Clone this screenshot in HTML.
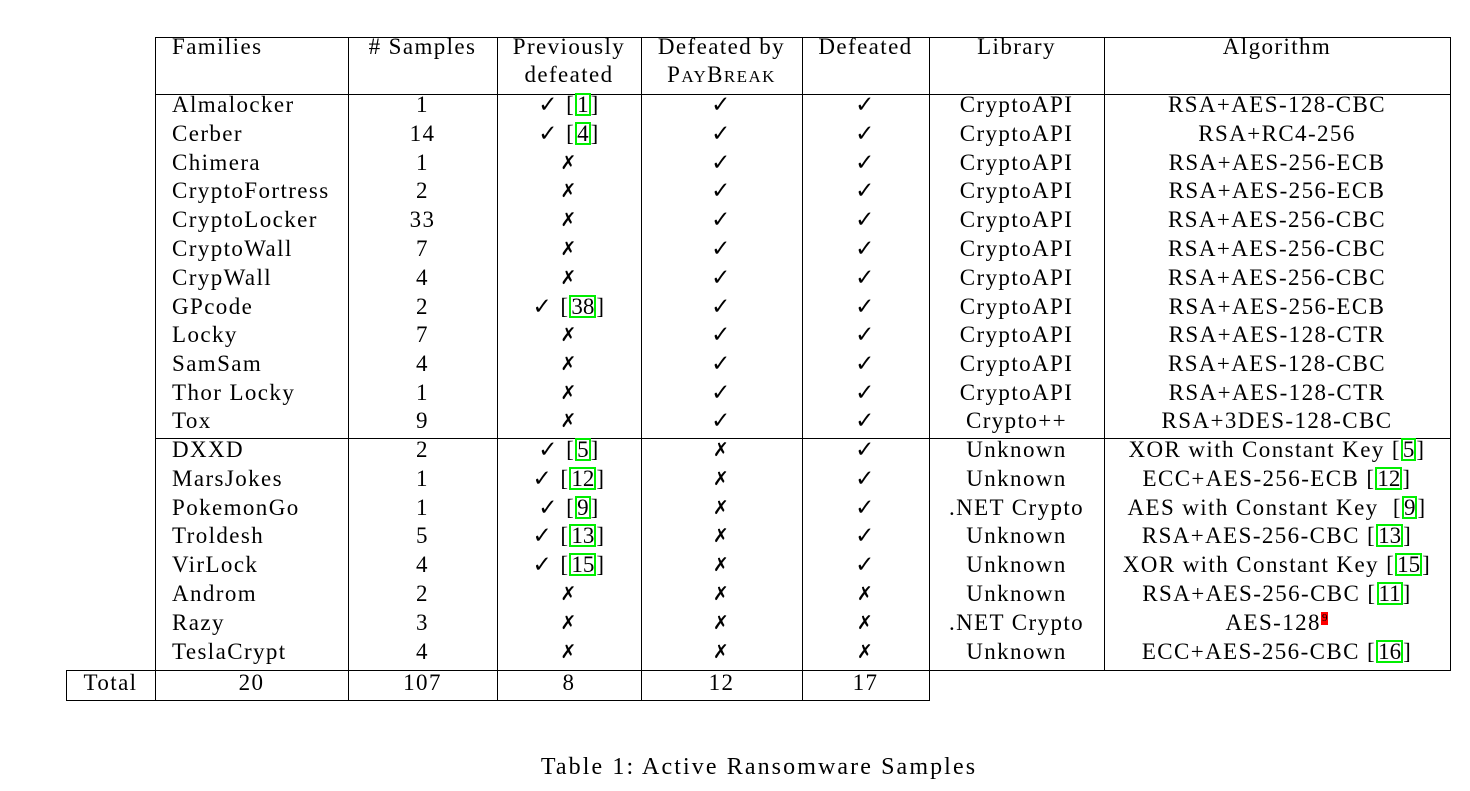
<!DOCTYPE html>
<html><head><meta charset="utf-8"><style>
body{margin:0;background:#fff;width:1470px;height:791px;position:relative;overflow:hidden;font-family:"Liberation Serif",serif;font-size:23px;color:#000;letter-spacing:1.4px}
.h,.v{position:absolute;background:#000}
.h{height:1.3px}.v{width:1.3px}
.row{position:absolute;left:0;width:1470px;height:26px;line-height:26px}
.row span{position:absolute;top:0;text-align:center;white-space:nowrap}
.f{left:172px;text-align:left!important}
.s{left:348px;width:149px}.p{left:497px;width:144px}.b{left:641px;width:161px}.d{left:802px;width:127px}.l{left:929px;width:175px}.a{left:1104px;width:346px}
.r{border:2px solid #00ee00;padding:0;line-height:19px;display:inline-block;letter-spacing:0}
.x{font-family:"DejaVu Sans",sans-serif;font-size:19px;font-weight:bold}
.sc{font-size:17px}
</style></head><body>
<div class="h" style="left:155px;top:37px;width:1296px"></div>
<div class="h" style="left:155px;top:94px;width:1296px"></div>
<div class="h" style="left:155px;top:438px;width:1296px"></div>
<div class="h" style="left:66px;top:670px;width:1385px"></div>
<div class="h" style="left:66px;top:700px;width:864px"></div>
<div class="v" style="left:66px;top:670px;height:31px"></div>
<div class="v" style="left:155px;top:37px;height:664px"></div>
<div class="v" style="left:348px;top:37px;height:664px"></div>
<div class="v" style="left:497px;top:37px;height:664px"></div>
<div class="v" style="left:641px;top:37px;height:664px"></div>
<div class="v" style="left:802px;top:37px;height:664px"></div>
<div class="v" style="left:929px;top:37px;height:664px"></div>
<div class="v" style="left:1104px;top:37px;height:634px"></div>
<div class="v" style="left:1450px;top:37px;height:634px"></div>

<div class="row" style="top:34px"><span class="f">Families</span><span class="s"># Samples</span><span class="p">Previously</span><span class="b">Defeated by</span><span class="d">Defeated</span><span class="l">Library</span><span class="a">Algorithm</span></div>
<div class="row" style="top:62px"><span class="p">defeated</span><span class="b">P<span class="sc" style="position:static">AY</span>B<span class="sc" style="position:static">REAK</span></span></div>

<div class="row" style="top:92px"><span class="f">Almalocker</span><span class="s">1</span><span class="p">✓ [<span class="r" style="position:static">1</span>]</span><span class="b">✓</span><span class="d">✓</span><span class="l">CryptoAPI</span><span class="a">RSA+AES-128-CBC</span></div>
<div class="row" style="top:121px"><span class="f">Cerber</span><span class="s">14</span><span class="p">✓ [<span class="r" style="position:static">4</span>]</span><span class="b">✓</span><span class="d">✓</span><span class="l">CryptoAPI</span><span class="a">RSA+RC4-256</span></div>
<div class="row" style="top:150px"><span class="f">Chimera</span><span class="s">1</span><span class="p x">✗</span><span class="b">✓</span><span class="d">✓</span><span class="l">CryptoAPI</span><span class="a">RSA+AES-256-ECB</span></div>
<div class="row" style="top:178px"><span class="f">CryptoFortress</span><span class="s">2</span><span class="p x">✗</span><span class="b">✓</span><span class="d">✓</span><span class="l">CryptoAPI</span><span class="a">RSA+AES-256-ECB</span></div>
<div class="row" style="top:207px"><span class="f">CryptoLocker</span><span class="s">33</span><span class="p x">✗</span><span class="b">✓</span><span class="d">✓</span><span class="l">CryptoAPI</span><span class="a">RSA+AES-256-CBC</span></div>
<div class="row" style="top:236px"><span class="f">CryptoWall</span><span class="s">7</span><span class="p x">✗</span><span class="b">✓</span><span class="d">✓</span><span class="l">CryptoAPI</span><span class="a">RSA+AES-256-CBC</span></div>
<div class="row" style="top:265px"><span class="f">CrypWall</span><span class="s">4</span><span class="p x">✗</span><span class="b">✓</span><span class="d">✓</span><span class="l">CryptoAPI</span><span class="a">RSA+AES-256-CBC</span></div>
<div class="row" style="top:294px"><span class="f">GPcode</span><span class="s">2</span><span class="p">✓ [<span class="r" style="position:static">38</span>]</span><span class="b">✓</span><span class="d">✓</span><span class="l">CryptoAPI</span><span class="a">RSA+AES-256-ECB</span></div>
<div class="row" style="top:322px"><span class="f">Locky</span><span class="s">7</span><span class="p x">✗</span><span class="b">✓</span><span class="d">✓</span><span class="l">CryptoAPI</span><span class="a">RSA+AES-128-CTR</span></div>
<div class="row" style="top:351px"><span class="f">SamSam</span><span class="s">4</span><span class="p x">✗</span><span class="b">✓</span><span class="d">✓</span><span class="l">CryptoAPI</span><span class="a">RSA+AES-128-CBC</span></div>
<div class="row" style="top:380px"><span class="f">Thor Locky</span><span class="s">1</span><span class="p x">✗</span><span class="b">✓</span><span class="d">✓</span><span class="l">CryptoAPI</span><span class="a">RSA+AES-128-CTR</span></div>
<div class="row" style="top:408px"><span class="f">Tox</span><span class="s">9</span><span class="p x">✗</span><span class="b">✓</span><span class="d">✓</span><span class="l">Crypto++</span><span class="a">RSA+3DES-128-CBC</span></div>
<div class="row" style="top:437px"><span class="f">DXXD</span><span class="s">2</span><span class="p">✓ [<span class="r" style="position:static">5</span>]</span><span class="b x">✗</span><span class="d">✓</span><span class="l">Unknown</span><span class="a">XOR with Constant Key [<span class="r" style="position:static">5</span>]</span></div>
<div class="row" style="top:466px"><span class="f">MarsJokes</span><span class="s">1</span><span class="p">✓ [<span class="r" style="position:static">12</span>]</span><span class="b x">✗</span><span class="d">✓</span><span class="l">Unknown</span><span class="a">ECC+AES-256-ECB [<span class="r" style="position:static">12</span>]</span></div>
<div class="row" style="top:495px"><span class="f">PokemonGo</span><span class="s">1</span><span class="p">✓ [<span class="r" style="position:static">9</span>]</span><span class="b x">✗</span><span class="d">✓</span><span class="l">.NET Crypto</span><span class="a">AES with Constant Key &nbsp;[<span class="r" style="position:static">9</span>]</span></div>
<div class="row" style="top:523px"><span class="f">Troldesh</span><span class="s">5</span><span class="p">✓ [<span class="r" style="position:static">13</span>]</span><span class="b x">✗</span><span class="d">✓</span><span class="l">Unknown</span><span class="a">RSA+AES-256-CBC [<span class="r" style="position:static">13</span>]</span></div>
<div class="row" style="top:552px"><span class="f">VirLock</span><span class="s">4</span><span class="p">✓ [<span class="r" style="position:static">15</span>]</span><span class="b x">✗</span><span class="d">✓</span><span class="l">Unknown</span><span class="a">XOR with Constant Key [<span class="r" style="position:static">15</span>]</span></div>
<div class="row" style="top:581px"><span class="f">Androm</span><span class="s">2</span><span class="p x">✗</span><span class="b x">✗</span><span class="d x">✗</span><span class="l">Unknown</span><span class="a">RSA+AES-256-CBC [<span class="r" style="position:static">11</span>]</span></div>
<div class="row" style="top:610px"><span class="f">Razy</span><span class="s">3</span><span class="p x">✗</span><span class="b x">✗</span><span class="d x">✗</span><span class="l">.NET Crypto</span><span class="a">AES-128<span style="position:relative;top:-9px;font-size:11px;background:#f00;border:1px solid #f00;line-height:11px;display:inline-block;letter-spacing:0">9</span></span></div>
<div class="row" style="top:639px"><span class="f">TeslaCrypt</span><span class="s">4</span><span class="p x">✗</span><span class="b x">✗</span><span class="d x">✗</span><span class="l">Unknown</span><span class="a">ECC+AES-256-CBC [<span class="r" style="position:static">16</span>]</span></div>
<div class="row" style="top:670px"><span style="left:66px;width:89px">Total</span><span style="left:155px;width:193px">20</span><span class="s">107</span><span class="p">8</span><span class="b">12</span><span class="d">17</span></div>

<div class="row" style="top:754px;font-size:24px;letter-spacing:2.1px"><span style="left:0;width:1518px">Table 1: Active Ransomware Samples</span></div>
</body></html>
